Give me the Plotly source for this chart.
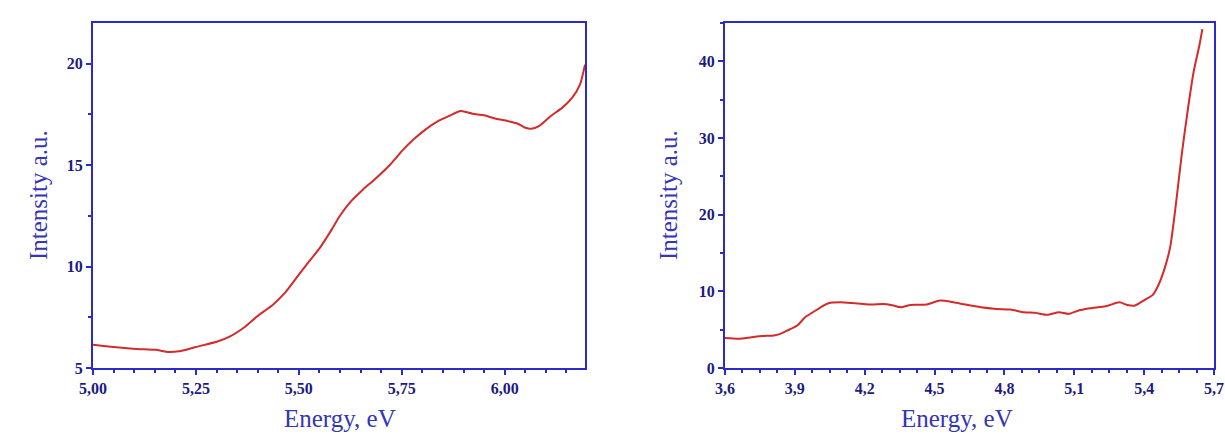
import plotly.graph_objects as go

# Left panel data
energy_left = [5.00, 5.057, 5.105, 5.152, 5.18, 5.209, 5.247, 5.304, 5.333, 5.371, 5.399, 5.437,
               5.466, 5.494, 5.522, 5.551, 5.580, 5.599, 5.627, 5.656, 5.684, 5.722, 5.75, 5.779,
               5.808, 5.836, 5.865, 5.893, 5.922, 5.95, 5.979, 6.007, 6.031, 6.05, 6.064, 6.083,
               6.112, 6.14, 6.164, 6.183, 6.195]
intensity_left = [6.15, 6.02, 5.94, 5.90, 5.79, 5.82, 6.02, 6.32, 6.56, 7.06, 7.55, 8.12,
                  8.70, 9.44, 10.18, 10.92, 11.83, 12.48, 13.22, 13.80, 14.29, 15.03, 15.69, 16.27,
                  16.76, 17.14, 17.42, 17.66, 17.53, 17.45, 17.28, 17.17, 17.05, 16.84, 16.79, 16.92,
                  17.42, 17.83, 18.32, 18.98, 19.95]

# Right panel data
energy_right = [3.6, 3.659, 3.709, 3.759, 3.81, 3.835, 3.868, 3.91, 3.944, 3.977, 4.011, 4.044,
                4.095, 4.145, 4.195, 4.229, 4.279, 4.313, 4.355, 4.397, 4.464, 4.523, 4.581,
                4.632, 4.699, 4.766, 4.825, 4.884, 4.934, 4.984, 5.034, 5.076, 5.118, 5.168,
                5.235, 5.294, 5.327, 5.361, 5.403, 5.436, 5.461, 5.487, 5.512, 5.537, 5.562,
                5.588, 5.613, 5.638, 5.650]
intensity_right = [3.9, 3.81, 3.98, 4.16, 4.24, 4.42, 4.89, 5.54, 6.62, 7.27, 7.92, 8.44,
                   8.57, 8.48, 8.35, 8.27, 8.35, 8.23, 7.92, 8.23, 8.27, 8.79, 8.57,
                   8.27, 7.92, 7.71, 7.62, 7.27, 7.19, 6.93, 7.27, 7.06, 7.49, 7.79,
                   8.05, 8.57, 8.23, 8.15, 8.9, 9.5, 10.8, 12.9, 15.8, 21.5, 28.0,
                   33.8, 38.7, 42.2, 44.2]

left_xticks = [5.00, 5.25, 5.50, 5.75, 6.00]
left_yticks = [5, 10, 15, 20]
right_xticks = [3.6, 3.9, 4.2, 4.5, 4.8, 5.1, 5.4, 5.7]
right_yticks = [0, 10, 20, 30, 40]
x_title = "Energy, eV"
y_title = "Intensity a.u."

LINE = "#d42a2a"
FRAME = "#2b2bcc"
TICKC = "#1c1c80"
TITLEC = "#3535b5"
SERIF = "Liberation Serif, Times New Roman, serif"
W, H = 1225, 437

fig = go.Figure()
fig.add_trace(go.Scatter(x=energy_left, y=intensity_left, mode="lines",
                         line=dict(color=LINE, width=2, shape="spline", smoothing=0.6),
                         xaxis="x", yaxis="y", showlegend=False))
fig.add_trace(go.Scatter(x=energy_right, y=intensity_right, mode="lines",
                         line=dict(color=LINE, width=2, shape="spline", smoothing=0.6),
                         xaxis="x2", yaxis="y2", showlegend=False))

common = dict(showline=True, linecolor=FRAME, linewidth=2, mirror=True,
              ticks="outside", ticklen=5, tickwidth=2, tickcolor=FRAME,
              showgrid=False, zeroline=False, automargin=False,
              tickfont=dict(family=SERIF, size=16, color=TICKC, weight="bold"))
minor = dict(ticks="outside", ticklen=3, tickwidth=2, tickcolor=FRAME)

ydom = [1 - 368/H, 1 - 23/H]
fig.update_layout(
    width=W, height=H,
    margin=dict(l=0, r=0, t=0, b=0),
    paper_bgcolor="white", plot_bgcolor="white",
    separators=", ",
    xaxis=dict(domain=[93/W, 585/W], anchor="y", range=[5.0, 6.195],
               tickvals=left_xticks, tickformat=".2f", minor=dict(dtick=0.05, **minor), **common),
    yaxis=dict(domain=ydom, anchor="x", range=[5, 22.0],
               tickvals=left_yticks, minor=dict(dtick=2.5, **minor), **common),
    xaxis2=dict(domain=[725/W, 1214/W], anchor="y2", range=[3.6, 5.7],
                tickvals=right_xticks, tickformat=".1f", minor=dict(dtick=0.075, **minor), **common),
    yaxis2=dict(domain=ydom, anchor="x2", range=[0, 45.0],
                tickvals=right_yticks, minor=dict(dtick=5, **minor), **common),
)

tfont = dict(family=SERIF, size=25, color=TITLEC)
for cx in (340, 957):
    fig.add_annotation(x=cx/W, y=1 - 418/H, xref="paper", yref="paper", text=x_title,
                       showarrow=False, xanchor="center", yanchor="middle", font=tfont)
for cx in (38, 668):
    fig.add_annotation(x=cx/W, y=1 - 195/H, xref="paper", yref="paper", text=y_title,
                       showarrow=False, xanchor="center", yanchor="middle", textangle=-90, font=tfont)

fig.write_html("out.html")
